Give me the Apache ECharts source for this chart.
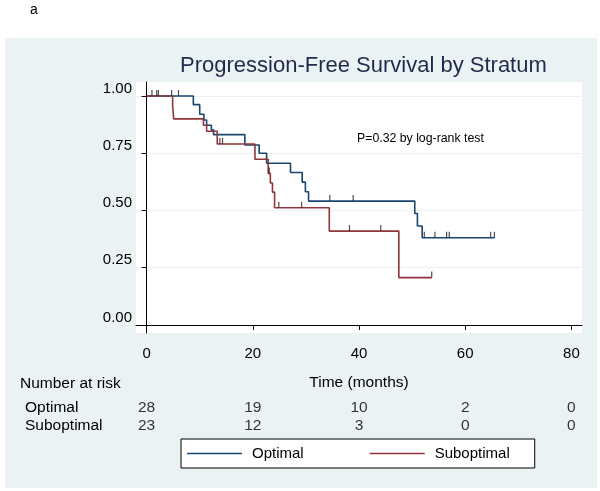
<!DOCTYPE html>
<html>
<head>
<meta charset="utf-8">
<script src="https://cdn.jsdelivr.net/npm/echarts@6/dist/echarts.min.js"></script>
<style>html,body{margin:0;padding:0;background:#fff}#c{width:600px;height:491px}</style>
</head>
<body>
<div id="c"></div>
<script>
// Kaplan-Meier step points (time in months, survival after the step)
const optTime = [0, 8.8, 10.0, 10.8, 11.3, 12.2, 12.6, 18.5, 21.2, 22.6, 27.1, 29.3, 29.9, 30.5, 50.5, 51.0, 51.9, 65.5];
const optSurv = [1, 0.962, 0.92, 0.895, 0.872, 0.852, 0.831, 0.786, 0.75, 0.706, 0.666, 0.624, 0.582, 0.541, 0.487, 0.432, 0.381, 0.381];
const subTime = [0, 4.9, 5.1, 10.7, 11.3, 13.3, 20.4, 22.9, 23.3, 23.7, 24.1, 34.4, 47.5, 53.7];
const subSurv = [1, 0.955, 0.90, 0.872, 0.846, 0.79, 0.724, 0.662, 0.62, 0.58, 0.512, 0.41, 0.207, 0.207];
// censoring marks
const optCensT = [1.9, 4.7, 6.0, 34.5, 38.9, 52.3, 54.3, 56.5, 57.0, 64.8, 65.5];
const optCensS = [1, 1, 1, 0.541, 0.541, 0.381, 0.381, 0.381, 0.381, 0.381, 0.381];
const subCensT = [1.0, 2.2, 13.8, 14.3, 23.1, 24.9, 29.2, 38.2, 44.1, 53.7];
const subCensS = [1, 1, 0.79, 0.79, 0.662, 0.512, 0.512, 0.41, 0.41, 0.207];
// axes
const xTicks = [0, 20, 40, 60, 80];
const yTicks = [0, 0.25, 0.5, 0.75, 1];
// number at risk
const groups = ['Optimal', 'Suboptimal'];
const riskTimes = [0, 20, 40, 60, 80];
const riskOptimal = [28, 19, 10, 2, 0];
const riskSuboptimal = [23, 12, 3, 0, 0];

const FONT = '"Liberation Sans", Arial, sans-serif';
const BLUE = '#1a476f', RED = '#90353b', PANEL = '#eaf2f3';
const zip = (a, b) => a.map((v, i) => [v, b[i]]);

const riskData = [];
riskTimes.forEach((t, i) => {
  riskData.push([t, groups[0], riskOptimal[i]]);
  riskData.push([t, groups[1], riskSuboptimal[i]]);
});

const chart = echarts.init(document.getElementById('c'), null, {renderer: 'canvas'});
chart.setOption({
  backgroundColor: '#fff',
  animation: false,
  textStyle: {fontFamily: FONT},
  graphic: [
    {type: 'rect', z: -10, shape: {x: 5, y: 38, width: 592, height: 450}, style: {fill: PANEL}},
    {type: 'text', x: 30, y: 3, style: {text: 'a', font: '14px ' + FONT, fill: '#000'}},
    {type: 'text', x: 20, y: 384, style: {text: 'Number at risk', font: '15.5px ' + FONT, fill: '#000', verticalAlign: 'middle'}},
    {type: 'text', x: 357, y: 139, style: {text: 'P=0.32 by log-rank test', font: '12.3px ' + FONT, fill: '#000', verticalAlign: 'middle'}}
  ],
  title: {
    text: 'Progression-Free Survival by Stratum',
    left: 180, top: 55, padding: 0,
    textStyle: {fontSize: 22, fontWeight: 'normal', color: '#1e2b4a', fontFamily: FONT}
  },
  legend: {
    data: [{name: 'Optimal', icon: 'rect'}, {name: 'Suboptimal', icon: 'rect'}],
    left: 181, top: 439,
    backgroundColor: '#fff', borderColor: '#000', borderWidth: 1,
    padding: [7, 25, 7, 6],
    itemWidth: 55, itemHeight: 1.6, itemGap: 66,
    textStyle: {fontSize: 15, color: '#000', fontFamily: FONT, padding: [0, 0, 0, 5]}
  },
  grid: [
    {left: 136, right: 18, top: 82, bottom: 158, show: true, backgroundColor: '#fff', borderWidth: 0},
    {left: 136, right: 18, top: 399, height: 36, show: false}
  ],
  xAxis: [
    {
      type: 'value', gridIndex: 0, min: -2, max: 82,
      name: 'Time (months)', nameLocation: 'middle', nameGap: 42,
      nameTextStyle: {fontSize: 15.5, color: '#000', fontFamily: FONT},
      axisLine: {show: true, lineStyle: {color: '#000', width: 1}},
      axisTick: {show: true, length: 5, customValues: xTicks, lineStyle: {color: '#000'}},
      axisLabel: {customValues: xTicks, fontSize: 15, color: '#000', margin: 13, fontFamily: FONT},
      splitLine: {show: false}
    },
    {type: 'value', gridIndex: 1, min: -2, max: 82, show: false}
  ],
  yAxis: [
    {
      type: 'value', gridIndex: 0, min: -0.035, max: 1.061,
      axisLine: {show: true, lineStyle: {color: '#000', width: 1}},
      axisTick: {show: true, length: 5, customValues: yTicks, lineStyle: {color: '#000'}},
      axisLabel: {customValues: yTicks, fontSize: 15, color: '#000', margin: 4, verticalAlign: 'bottom', lineHeight: 15,
        fontFamily: FONT, formatter: v => v.toFixed(2)},
      splitLine: {show: true, lineStyle: {color: ['rgba(0,0,0,0)', PANEL, PANEL, PANEL, PANEL], width: 1}}
    },
    {
      type: 'category', gridIndex: 1, data: groups, inverse: true,
      axisLine: {show: false}, axisTick: {show: false}, splitLine: {show: false},
      axisLabel: {interval: 0, align: 'left', margin: 111, fontSize: 15.5, color: '#000', fontFamily: FONT}
    }
  ],
  series: [
    {
      name: 'Optimal', type: 'line', step: 'end', showSymbol: false, symbol: 'none',
      data: zip(optTime, optSurv), color: BLUE, lineStyle: {color: BLUE, width: 1.6}, z: 3
    },
    {
      name: 'Suboptimal', type: 'line', step: 'end', showSymbol: false, symbol: 'none',
      data: zip(subTime, subSurv), color: RED, lineStyle: {color: RED, width: 1.6}, z: 4
    },
    {
      name: 'Optimal censored', type: 'scatter', data: zip(optCensT, optCensS),
      symbol: 'rect', symbolSize: [1.2, 6], symbolOffset: [0, -3], itemStyle: {color: '#1b2633'}, z: 5
    },
    {
      name: 'Suboptimal censored', type: 'scatter', data: zip(subCensT, subCensS),
      symbol: 'rect', symbolSize: [1.2, 6], symbolOffset: [0, -3], itemStyle: {color: '#2a1a1a'}, z: 5
    },
    {
      name: 'Number at risk', type: 'scatter', xAxisIndex: 1, yAxisIndex: 1,
      data: riskData, symbolSize: 1, itemStyle: {color: 'rgba(0,0,0,0)'},
      label: {show: true, position: 'inside', fontSize: 15.5, color: '#000', fontFamily: FONT,
        formatter: p => String(p.value[2])}
    }
  ]
});
</script>
</body>
</html>
